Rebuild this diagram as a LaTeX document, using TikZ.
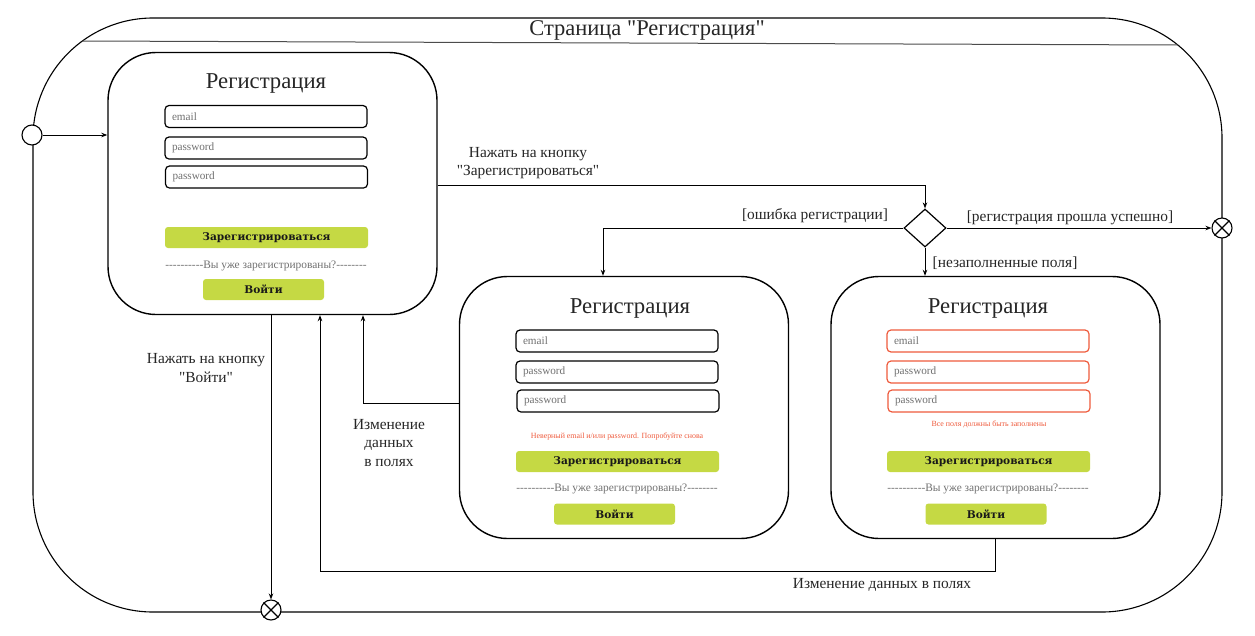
\documentclass[tikz,border=0pt]{standalone}
\usepackage{fontspec}
\setmainfont{Liberation Serif}[Ligatures=TeXOff]
\newfontfamily\btnfont{DejaVu Serif}[Ligatures=TeXOff]
\usetikzlibrary{arrows.meta,shapes.geometric}
\definecolor{btn}{HTML}{C5D944}
\definecolor{errred}{HTML}{EE5A3C}
\definecolor{fieldtxt}{HTML}{707070}
\begin{document}
\begin{tikzpicture}[x=1pt,y=-1pt,
  frame/.style={draw, line width=1.1pt, rounded corners=120pt, minimum width=1189pt, minimum height=594pt, inner sep=0pt},
  statebox/.style={draw, line width=1.4pt, rounded corners=48pt, minimum width=329pt, minimum height=262pt, inner sep=0pt},
  boxtitle/.style={font=\fontsize{22.7}{26}\selectfont, text=black!85},
  field/.style={draw, line width=1.2pt, rounded corners=4pt, minimum width=202pt, minimum height=22pt, inner xsep=7pt, inner ysep=0pt, text width=188pt, align=left, font=\fontsize{11.2}{13}\selectfont, text=fieldtxt},
  redfield/.style={field, draw=errred},
  button/.style={fill=btn, rounded corners=3pt, minimum height=21pt, inner sep=0pt, font=\btnfont\bfseries\fontsize{10.6}{13}\selectfont, text=black!90},
  bigbtn/.style={button, minimum width=203pt},
  smallbtn/.style={button, minimum width=121pt},
  dashtext/.style={font=\fontsize{11.4}{13}\selectfont, text=fieldtxt, inner sep=0pt},
  errtext/.style={font=\fontsize{7.9}{9}\selectfont, text=errred, inner sep=0pt},
  lbl/.style={font=\fontsize{15.4}{18.5}\selectfont, text=black!85, align=center, inner sep=0pt},
  conn/.style={draw, line width=1pt, -{Stealth[length=6pt,width=4.5pt]}},
  initial/.style={draw, line width=1.1pt, circle, fill=white, minimum size=20pt, inner sep=0pt},
  final/.style={draw, line width=1.1pt, circle, fill=white, minimum size=20pt, inner sep=0pt},
  decision/.style={draw, line width=1.2pt, diamond, fill=white, minimum width=42pt, minimum height=38pt, inner sep=0pt}
]
\useasboundingbox (0,0) rectangle (1255,635);

% outer page frame
\node[frame] (page) at (627.5,315) {};
\draw[line width=1pt, black!70] (82,41) -- (1178,45);
\node[font=\fontsize{22.5}{26}\selectfont, text=black!85] (pagetitle) at (647,30) {Страница "Регистрация"};

% state 1
\node[statebox] (box1) at (272.5,183.5) {};
\node[boxtitle] (t1) at (266,83) {Регистрация};
\node[field] (f1a) at (266,116.5) {email};
\node[field] (f1b) at (266,148) {password};
\node[field] (f1c) at (266.5,177) {password};
\node[bigbtn] (b1) at (266.5,237.5) {Зарегистрироваться};
\node[dashtext] (d1) at (266,266) {----------Вы уже зарегистрированы?--------};
\node[smallbtn] (l1) at (263.5,289.5) {Войти};

% state 2
\node[statebox] (box2) at (624,407.5) {};
\node[boxtitle] (t2) at (630,308) {Регистрация};
\node[field] (f2a) at (617,341) {email};
\node[field] (f2b) at (617,372) {password};
\node[field] (f2c) at (618,401) {password};
\node[errtext] (e2) at (617,437) {Неверный email и/или password. Попробуйте снова};
\node[bigbtn] (b2) at (617.5,461.5) {Зарегистрироваться};
\node[dashtext] (d2) at (617,489) {----------Вы уже зарегистрированы?--------};
\node[smallbtn] (l2) at (614.5,514) {Войти};

% state 3
\node[statebox] (box3) at (995.5,407.5) {};
\node[boxtitle] (t3) at (988,308) {Регистрация};
\node[redfield] (f3a) at (988,341) {email};
\node[redfield] (f3b) at (988,372) {password};
\node[redfield] (f3c) at (989,401) {password};
\node[errtext] (e3) at (989,424) {Все поля должны быть заполнены};
\node[bigbtn] (b3) at (988.5,461.5) {Зарегистрироваться};
\node[dashtext] (d3) at (988,489) {----------Вы уже зарегистрированы?--------};
\node[smallbtn] (l3) at (986,514) {Войти};

% pseudo states
\node[initial] (init) at (32,135) {};
\node[decision] (dec) at (925,228) {};
\node[final] (fin1) at (1222,228) {};
\draw[line width=1.1pt] (fin1.north west) -- (fin1.south east) (fin1.north east) -- (fin1.south west);
\node[final] (fin2) at (271,610) {};
\draw[line width=1.1pt] (fin2.north west) -- (fin2.south east) (fin2.north east) -- (fin2.south west);

% connectors
\draw[conn] (init.east) -- (init -| box1.west);
\draw[conn] ([yshift=-2pt]box1.east) -| (dec.north);
\draw[conn] (dec.west) -| ([xshift=-21pt]box2.north);
\draw[conn] (dec.east) -- (fin1.west);
\draw[conn] (dec.south) -- (dec.south |- box3.north);
\draw[conn] (box1.south -| fin2.north) -- (fin2.north);
\draw[conn] ([yshift=4.5pt]box2.west) -| ([xshift=90.5pt]box1.south);
\draw[conn] (box3.south) -- ++(0,32) -| ([xshift=47.5pt]box1.south);

% labels
\node[lbl] (lab1) at (528,163) {Нажать на кнопку\\"Зарегистрироваться"};
\node[lbl] (lab2) at (815,216) {[ошибка регистрации]};
\node[lbl] (lab3) at (1070,218) {[регистрация прошла успешно]};
\node[lbl] (lab4) at (1005,263) {[незаполненные поля]};
\node[lbl] (lab5) at (206,368) {Нажать на кнопку\\"Войти"};
\node[lbl] (lab6) at (389,443) {Изменение\\данных\\в полях};
\node[lbl] (lab7) at (882,585) {Изменение данных в полях};
\end{tikzpicture}
\end{document}
